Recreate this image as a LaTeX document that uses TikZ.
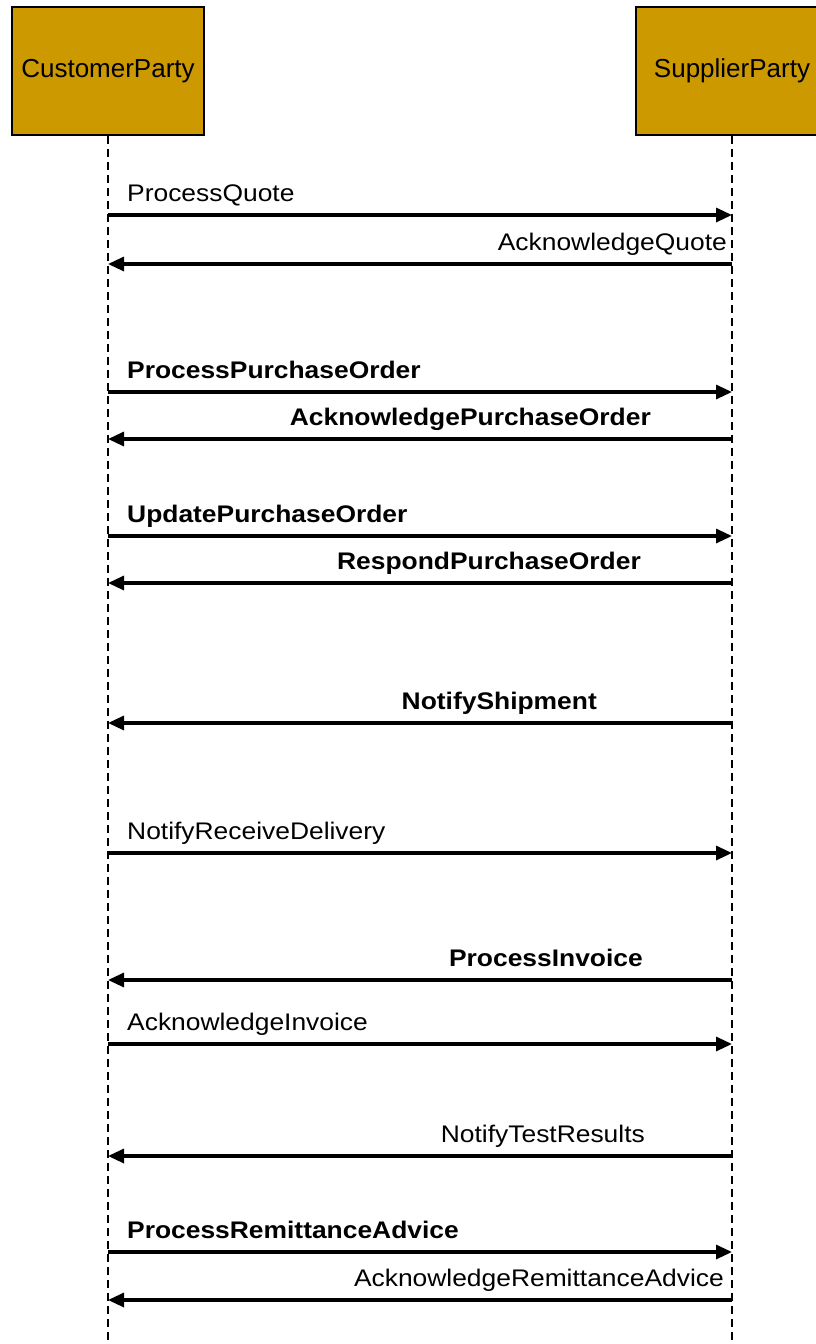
\documentclass[tikz,border=0pt]{standalone}
\usepackage{fontspec}
\setmainfont{Liberation Sans}
\newfontfamily\msgfont[FakeStretch=1.1]{Liberation Sans}
\usetikzlibrary{arrows.meta}
\definecolor{partyfill}{HTML}{CC9900}
\tikzset{
  party/.style={ % lifeline head box
    draw, rectangle, line width=1.6pt, fill=partyfill,
    minimum width=192pt, minimum height=128pt, inner sep=0pt,
    font=\fontsize{26}{30}\selectfont, text=black
  },
  lifeline/.style={ % dashed line under a party
    line width=1.6pt, dash pattern=on 8pt off 5pt
  },
  msg/.style={ % a message arrow
    line width=3.2pt, -{Triangle[length=16pt,width=14pt]}
  },
  msglbl/.style={
    inner sep=0pt, font=\msgfont\fontsize{24}{28}\selectfont
  },
  msgbold/.style={
    msglbl, font=\msgfont\bfseries\fontsize{24}{28}\selectfont
  }
}
\begin{document}
\begin{tikzpicture}[x=1pt, y=-1pt]
  \useasboundingbox (0,0) rectangle (816,1344);

  \node[party] (customer) at (108,71) {CustomerParty};
  \node[party] (supplier) at (732,71) {SupplierParty};
  \coordinate (customer end) at (customer |- 0,1346);
  \coordinate (supplier end) at (supplier |- 0,1346);
  \draw[lifeline] (customer.south) -- (customer end);
  \draw[lifeline] (supplier.south) -- (supplier end);

  % quote
  \draw[msg] (customer |- 0,215) -- (supplier |- 0,215);
  \node[msglbl, anchor=base west] (pq) at (127,201) {ProcessQuote};
  \draw[msg] (supplier |- 0,264) -- (customer |- 0,264);
  \node[msglbl, anchor=base east] (aq) at (727,250) {AcknowledgeQuote};

  % purchase order
  \draw[msg] (customer |- 0,392) -- (supplier |- 0,392);
  \node[msgbold, anchor=base west] (ppo) at (127,378) {ProcessPurchaseOrder};
  \draw[msg] (supplier |- 0,439) -- (customer |- 0,439);
  \node[msgbold, anchor=base east] (apo) at (651,425) {AcknowledgePurchaseOrder};
  \draw[msg] (customer |- 0,536) -- (supplier |- 0,536);
  \node[msgbold, anchor=base west] (upo) at (127,522) {UpdatePurchaseOrder};
  \draw[msg] (supplier |- 0,583) -- (customer |- 0,583);
  \node[msgbold, anchor=base east] (rpo) at (641,569) {RespondPurchaseOrder};

  % shipment and delivery
  \draw[msg] (supplier |- 0,723) -- (customer |- 0,723);
  \node[msgbold, anchor=base east] (ns) at (597,709) {NotifyShipment};
  \draw[msg] (customer |- 0,853) -- (supplier |- 0,853);
  \node[msglbl, anchor=base west] (nrd) at (127,839) {NotifyReceiveDelivery};

  % invoice
  \draw[msg] (supplier |- 0,980) -- (customer |- 0,980);
  \node[msgbold, anchor=base east] (pi) at (643,966) {ProcessInvoice};
  \draw[msg] (customer |- 0,1044) -- (supplier |- 0,1044);
  \node[msglbl, anchor=base west] (ai) at (127,1030) {AcknowledgeInvoice};

  % test results
  \draw[msg] (supplier |- 0,1156) -- (customer |- 0,1156);
  \node[msglbl, anchor=base east] (ntr) at (645,1142) {NotifyTestResults};

  % remittance
  \draw[msg] (customer |- 0,1252) -- (supplier |- 0,1252);
  \node[msgbold, anchor=base west] (pra) at (127,1238) {ProcessRemittanceAdvice};
  \draw[msg] (supplier |- 0,1300) -- (customer |- 0,1300);
  \node[msglbl, anchor=base east] (ara) at (724,1286) {AcknowledgeRemittanceAdvice};
\end{tikzpicture}
\end{document}
